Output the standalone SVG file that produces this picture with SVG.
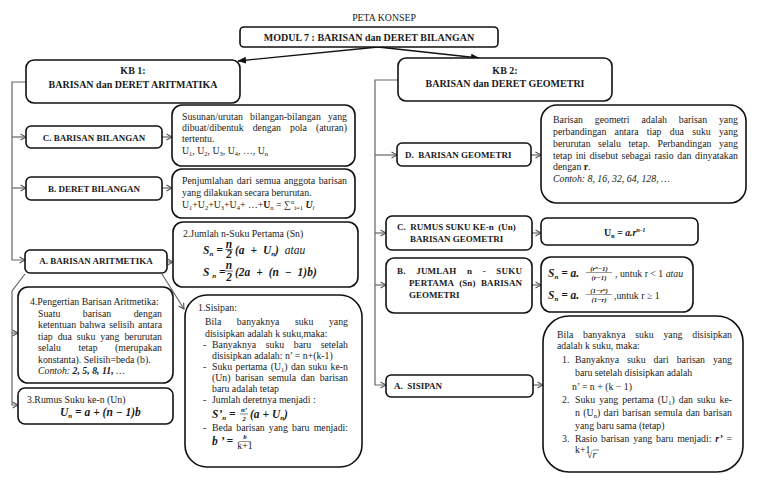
<svg xmlns="http://www.w3.org/2000/svg" width="768" height="489" viewBox="0 0 768 489">
<defs>
<style>
.b{fill:#fff;stroke:#111;stroke-width:1.6}
.c{fill:none;stroke:#666;stroke-width:1.2}
.a{fill:none;stroke:#111;stroke-width:1.3}
text{font-family:"Liberation Serif","Times New Roman",serif;fill:#1a1a1a}
.t{font-size:9.8px}
.h{font-size:9px;font-weight:bold}
.k{font-size:10px;font-weight:bold}
.m{font-size:11.5px;font-weight:bold;font-style:italic}
.i{font-style:italic}
.s{font-size:6.5px}
.f{font-size:7px;font-weight:bold;font-style:italic}
</style>
<marker id="ch" viewBox="0 0 8 8" refX="6.5" refY="4" markerWidth="8" markerHeight="8" markerUnits="userSpaceOnUse" orient="auto">
<path d="M1,1 L6.5,4 L1,7" fill="none" stroke="#555" stroke-width="1.1"/>
</marker>
<marker id="fa" viewBox="0 0 9 8" refX="8" refY="4" markerWidth="9" markerHeight="8" markerUnits="userSpaceOnUse" orient="auto">
<path d="M0,0.5 L8.5,4 L0,7.5 z" fill="#111"/>
</marker>
</defs>
<rect width="768" height="489" fill="#fff"/>

<text class="t" x="384" y="20.5" text-anchor="middle" font-size="10">PETA KONSEP</text>

<g id="connectors">
<line class="a" x1="378" y1="47" x2="238" y2="61" marker-end="url(#fa)"/>
<line class="a" x1="378" y1="47" x2="479" y2="58" marker-end="url(#fa)"/>
<polyline class="c" points="26,82 12,82 12,260 25,260" marker-end="url(#ch)"/>
<line class="c" x1="12" y1="137" x2="26" y2="137" marker-end="url(#ch)"/>
<line class="c" x1="12" y1="188" x2="26" y2="188" marker-end="url(#ch)"/>
<line class="c" x1="162" y1="137" x2="172" y2="137" marker-end="url(#ch)"/>
<line class="c" x1="162" y1="188" x2="172" y2="188" marker-end="url(#ch)"/>
<line class="c" x1="167" y1="262" x2="173" y2="262" marker-end="url(#ch)"/>
<line class="c" x1="162" y1="274" x2="184" y2="309" marker-end="url(#ch)"/>
<polyline class="c" points="25,274 12,291 12,405 18,405" marker-end="url(#ch)"/>
<line class="c" x1="12" y1="333" x2="18" y2="333" marker-end="url(#ch)"/>
<polyline class="c" points="398,80 375,80 375,385 386,385" marker-end="url(#ch)"/>
<line class="c" x1="375" y1="155" x2="397" y2="155" marker-end="url(#ch)"/>
<line class="c" x1="375" y1="233" x2="386" y2="233" marker-end="url(#ch)"/>
<line class="c" x1="375" y1="285" x2="386" y2="285" marker-end="url(#ch)"/>
<line class="c" x1="531" y1="155" x2="541" y2="155" marker-end="url(#ch)"/>
<line class="c" x1="532" y1="233" x2="541" y2="233" marker-end="url(#ch)"/>
<line class="c" x1="532" y1="285" x2="541" y2="285" marker-end="url(#ch)"/>
<line class="c" x1="533" y1="385" x2="543" y2="385" marker-end="url(#ch)"/>
</g>

<g id="modul">
<rect class="b" x="240" y="27" width="258" height="20" rx="4"/>
<text class="k" x="369" y="40.5" text-anchor="middle">MODUL 7 : BARISAN dan DERET BILANGAN</text>
</g>

<g id="kb1">
<rect class="b" x="26" y="60" width="214" height="43" rx="8"/>
<text class="k" x="133" y="73.5" text-anchor="middle">KB 1:</text>
<text class="k" x="133" y="87.5" text-anchor="middle">BARISAN dan DERET ARITMATIKA</text>
</g>

<g id="kb2">
<rect class="b" x="398" y="58" width="214" height="43" rx="8"/>
<text class="k" x="505" y="73.5" text-anchor="middle">KB 2:</text>
<text class="k" x="505" y="86.5" text-anchor="middle">BARISAN dan DERET GEOMETRI</text>
</g>

<g id="c-barisan-bilangan">
<rect class="b" x="26" y="126" width="136" height="22" rx="5"/>
<text class="h" x="94" y="140.5" text-anchor="middle">C. BARISAN BILANGAN</text>
</g>

<g id="c-desc">
<rect class="b" x="172" y="105" width="183" height="61" rx="10"/>
<text class="t" x="182" y="120" word-spacing="4.6" textLength="165" lengthAdjust="spacing">Susunan/urutan bilangan-bilangan yang</text>
<text class="t" x="182" y="131" word-spacing="6.6" textLength="165" lengthAdjust="spacing">dibuat/dibentuk dengan pola (aturan)</text>
<text class="t" x="182" y="142">tertentu.</text>
<text class="t" x="182" y="154">U<tspan class="s" dy="2">1</tspan><tspan dy="-2">, U</tspan><tspan class="s" dy="2">2</tspan><tspan dy="-2">, U</tspan><tspan class="s" dy="2">3</tspan><tspan dy="-2">, U</tspan><tspan class="s" dy="2">4</tspan><tspan dy="-2">, …, U</tspan><tspan class="s" dy="2">n</tspan></text>
</g>

<g id="b-deret-bilangan">
<rect class="b" x="26" y="177" width="136" height="23" rx="5"/>
<text class="h" x="94" y="191.5" text-anchor="middle">B. DERET BILANGAN</text>
</g>

<g id="b-desc">
<rect class="b" x="172" y="169" width="183" height="49" rx="10"/>
<text class="t" x="182" y="184" word-spacing="1.1" textLength="165" lengthAdjust="spacing">Penjumlahan dari semua anggota barisan</text>
<text class="t" x="182" y="195.5">yang dilakukan secara berurutan.</text>
<text class="t" x="182" y="208">U<tspan class="s" dy="2">1</tspan><tspan dy="-2">+U</tspan><tspan class="s" dy="2">2</tspan><tspan dy="-2">+U</tspan><tspan class="s" dy="2">3</tspan><tspan dy="-2">+U</tspan><tspan class="s" dy="2">4</tspan><tspan dy="-2">+ …+</tspan><tspan font-weight="bold">U</tspan><tspan class="s" dy="2">n</tspan><tspan dy="-2"> = ∑</tspan><tspan class="s" dy="-4">n</tspan><tspan class="s" dy="6">i=1</tspan><tspan dy="-2" font-weight="bold" font-style="italic"> U</tspan><tspan class="s" dy="2" font-style="italic">i</tspan></text>
</g>

<g id="a-barisan-aritmetika">
<rect class="b" x="25" y="250" width="142" height="23" rx="5"/>
<text class="h" x="96" y="264" text-anchor="middle">A. BARISAN ARITMETIKA</text>
</g>

<g id="jumlah-sn">
<rect class="b" x="173" y="222" width="185" height="65" rx="10"/>
<text class="t" x="183" y="237">2.Jumlah n-Suku Pertama (Sn)</text>
<text class="m" x="203" y="254">S<tspan class="f" dy="2">n</tspan><tspan dy="-2"> = </tspan></text>
<text class="m" x="229" y="247.5" text-anchor="middle" font-size="9">n</text>
<line x1="225" y1="249.5" x2="233" y2="249.5" stroke="#333" stroke-width="0.7"/>
<text class="m" x="229" y="258" text-anchor="middle" font-size="9">2</text>
<text class="m" x="235" y="254" word-spacing="3">(a + U<tspan class="f" dy="2">n</tspan><tspan dy="-2">) </tspan><tspan font-weight="normal">atau</tspan></text>
<text class="m" x="203" y="276">S <tspan class="f" dy="2">n</tspan><tspan dy="-2"> = </tspan></text>
<text class="m" x="229" y="269" text-anchor="middle" font-size="9">n</text>
<line x1="225" y1="271" x2="233" y2="271" stroke="#333" stroke-width="0.7"/>
<text class="m" x="229" y="280.5" text-anchor="middle" font-size="9">2</text>
<text class="m" x="235" y="276" word-spacing="3">(2a + (n − 1)b)</text>
</g>

<g id="pengertian">
<rect class="b" x="18" y="287" width="155" height="96" rx="10"/>
<text class="t" x="30" y="305">4.Pengertian Barisan Aritmetika:</text>
<text class="t" x="38" y="316.5" word-spacing="20" textLength="124" lengthAdjust="spacing">Suatu barisan dengan</text>
<text class="t" x="38" y="328" word-spacing="1.3" textLength="124" lengthAdjust="spacing">ketentuan bahwa selisih antara</text>
<text class="t" x="38" y="339.5" word-spacing="2.5" textLength="124" lengthAdjust="spacing">tiap dua suku yang berurutan</text>
<text class="t" x="38" y="351" word-spacing="15" textLength="124" lengthAdjust="spacing">selalu tetap (merupakan</text>
<text class="t" x="38" y="362.5">konstanta). Selisih=beda (b).</text>
<text class="t i" x="38" y="374">Contoh: <tspan font-weight="bold">2, 5, 8, 11,</tspan> …</text>
</g>

<g id="rumus-un">
<rect class="b" x="18" y="388" width="155" height="36" rx="7"/>
<text class="t" x="27" y="403">3.Rumus Suku ke-n (Un)</text>
<text class="m" x="60" y="416">U<tspan class="f" dy="2">n</tspan><tspan dy="-2"> = a + (n − 1)b</tspan></text>
</g>

<g id="sisipan-aritmetika">
<rect class="b" x="185" y="295" width="177" height="172" rx="22"/>
<text class="t" x="198" y="311">1.Sisipan:</text>
<text class="t" x="205" y="325" word-spacing="13" textLength="143" lengthAdjust="spacing">Bila banyaknya suku yang</text>
<text class="t" x="205" y="336.5">disisipkan adalah k suku,maka:</text>
<text class="t" x="203" y="348">-</text>
<text class="t" x="212" y="348" word-spacing="7" textLength="136" lengthAdjust="spacing">Banyaknya suku baru setelah</text>
<text class="t" x="212" y="359">disisipkan adalah: n’ = n+(k-1)</text>
<text class="t" x="203" y="370">-</text>
<text class="t" x="212" y="370" word-spacing="1" textLength="136" lengthAdjust="spacing">Suku pertama (U<tspan class="s" dy="2">1</tspan><tspan dy="-2">) dan suku ke-n</tspan></text>
<text class="t" x="212" y="381" word-spacing="2.3" textLength="136" lengthAdjust="spacing">(Un) barisan semula dan barisan</text>
<text class="t" x="212" y="392">baru adalah tetap</text>
<text class="t" x="203" y="403">-</text>
<text class="t" x="212" y="403">Jumlah deretnya menjadi :</text>
<text class="m" x="212" y="418">S’<tspan class="f" dy="2">n</tspan><tspan dy="-2"> = </tspan></text>
<text class="f" x="244" y="412" text-anchor="middle" font-size="6">n’</text>
<line x1="240" y1="414" x2="248" y2="414" stroke="#333" stroke-width="0.6"/>
<text class="f" x="244" y="420.5" text-anchor="middle" font-size="6">2</text>
<text class="m" x="250" y="418">(a + U<tspan class="f" dy="2">n</tspan><tspan dy="-2">)</tspan></text>
<text class="t" x="203" y="431">-</text>
<text class="t" x="212" y="431" word-spacing="1.7" textLength="136" lengthAdjust="spacing">Beda barisan yang baru menjadi:</text>
<text class="m" x="212" y="445" font-size="10.5">b ’ = </text>
<text class="f" x="245" y="439" text-anchor="middle" font-size="5.5">b</text>
<line x1="239" y1="441.5" x2="251" y2="441.5" stroke="#333" stroke-width="0.5"/>
<text class="t" x="245" y="448.5" text-anchor="middle" font-size="5.5">k+1</text>
</g>

<g id="d-barisan-geometri">
<rect class="b" x="397" y="143" width="134" height="23" rx="5"/>
<text class="h" x="405" y="157.5" xml:space="preserve">D.  BARISAN GEOMETRI</text>
</g>

<g id="d-desc">
<rect class="b" x="541" y="105" width="205" height="98" rx="16"/>
<text class="t" x="553" y="122.5" word-spacing="9.4" textLength="185" lengthAdjust="spacing">Barisan geometri adalah barisan yang</text>
<text class="t" x="553" y="134.5" word-spacing="5.8" textLength="185" lengthAdjust="spacing">perbandingan antara tiap dua suku yang</text>
<text class="t" x="553" y="146.5" word-spacing="5.1" textLength="185" lengthAdjust="spacing">berurutan selalu tetap. Perbandingan yang</text>
<text class="t" x="553" y="158.5" word-spacing="1.2" textLength="185" lengthAdjust="spacing">tetap ini disebut sebagai rasio dan dinyatakan</text>
<text class="t" x="553" y="170">dengan <tspan font-weight="bold">r</tspan>.</text>
<text class="t i" x="553" y="181.5">Contoh: 8, 16, 32, 64, 128, …</text>
</g>

<g id="c-rumus-suku">
<rect class="b" x="386" y="216" width="146" height="34" rx="6"/>
<text class="h" x="397" y="229.5" xml:space="preserve">C.  RUMUS SUKU KE-n  (Un)</text>
<text class="h" x="410" y="241.5">BARISAN GEOMETRI</text>
</g>

<g id="un-geometri">
<rect class="b" x="541" y="218" width="157" height="27" rx="6"/>
<text class="t" x="604" y="236" font-weight="bold">U<tspan class="s" dy="2">n</tspan><tspan dy="-2"> = </tspan><tspan font-style="italic">a.r</tspan><tspan class="s" font-style="italic" dy="-4">n-1</tspan></text>
</g>

<g id="b-jumlah-geometri">
<rect class="b" x="386" y="258" width="146" height="55" rx="8"/>
<text class="h" x="397" y="273.5" word-spacing="8" textLength="125" lengthAdjust="spacing">B. JUMLAH n - SUKU</text>
<text class="h" x="409" y="285.5" word-spacing="3.2" textLength="113" lengthAdjust="spacing">PERTAMA (Sn) BARISAN</text>
<text class="h" x="409" y="297.5">GEOMETRI</text>
</g>

<g id="sn-geometri">
<rect class="b" x="541" y="257" width="152" height="55" rx="10"/>
<text class="m" x="548" y="277">S<tspan class="f" dy="2">n</tspan><tspan dy="-2"> =  a.</tspan></text>
<text class="f" x="599" y="270.5" text-anchor="middle" font-size="6">(r<tspan dy="-2" font-size="4.5">n</tspan><tspan dy="2">−1)</tspan></text>
<line x1="586" y1="272.5" x2="612" y2="272.5" stroke="#333" stroke-width="0.5"/>
<text class="f" x="599" y="280" text-anchor="middle" font-size="6">(r−1)</text>
<text class="t" x="615" y="277" font-size="9.5">, untuk r &lt; 1 <tspan font-style="italic">atau</tspan></text>
<text class="m" x="548" y="299">S<tspan class="f" dy="2">n</tspan><tspan dy="-2"> =  a.</tspan></text>
<text class="f" x="599" y="292.5" text-anchor="middle" font-size="6">(1−r<tspan dy="-2" font-size="4.5">n</tspan><tspan dy="2">)</tspan></text>
<line x1="586" y1="294.5" x2="612" y2="294.5" stroke="#333" stroke-width="0.5"/>
<text class="f" x="599" y="302" text-anchor="middle" font-size="6">(1−r)</text>
<text class="t" x="614" y="299" font-size="9.5">,untuk r ≥ 1</text>
</g>

<g id="a-sisipan">
<rect class="b" x="386" y="375" width="147" height="22" rx="5"/>
<text class="h" x="394" y="389" xml:space="preserve">A.  SISIPAN</text>
</g>

<g id="sisipan-geometri">
<rect class="b" x="543" y="316" width="200" height="156" rx="26"/>
<text class="t" x="557" y="337.5" word-spacing="7.3" textLength="175" lengthAdjust="spacing">Bila banyaknya suku yang disisipkan</text>
<text class="t" x="557" y="348.5">adalah k suku, maka:</text>
<text class="t" x="562" y="363">1.</text>
<text class="t" x="575" y="363" word-spacing="5.5" textLength="157" lengthAdjust="spacing">Banyaknya suku dari barisan yang</text>
<text class="t" x="575" y="376">baru setelah disisipkan adalah</text>
<text class="t" x="572" y="389.5">n’ = n + (k − 1)</text>
<text class="t" x="562" y="403">2.</text>
<text class="t" x="575" y="403" word-spacing="1.6" textLength="157" lengthAdjust="spacing">Suku yang pertama (U<tspan class="s" dy="2">1</tspan><tspan dy="-2">) dan suku ke-</tspan></text>
<text class="t" x="575" y="415.5" word-spacing="0.8" textLength="157" lengthAdjust="spacing">n (U<tspan class="s" dy="2">n</tspan><tspan dy="-2">) dari barisan semula dan barisan</tspan></text>
<text class="t" x="575" y="428.5">yang baru sama (tetap)</text>
<text class="t" x="562" y="442">3.</text>
<text class="t" x="575" y="442" word-spacing="1.4" textLength="157" lengthAdjust="spacing">Rasio barisan yang baru menjadi: <tspan font-style="italic" font-weight="bold">r’</tspan> =</text>
<text class="t" x="575" y="452.5" font-size="4.5">k+1</text>
<text class="t" x="587" y="458" font-size="9">√<tspan font-style="italic">r</tspan></text>
<line x1="593" y1="450" x2="599" y2="450" stroke="#333" stroke-width="0.6"/>
</g>
</svg>
